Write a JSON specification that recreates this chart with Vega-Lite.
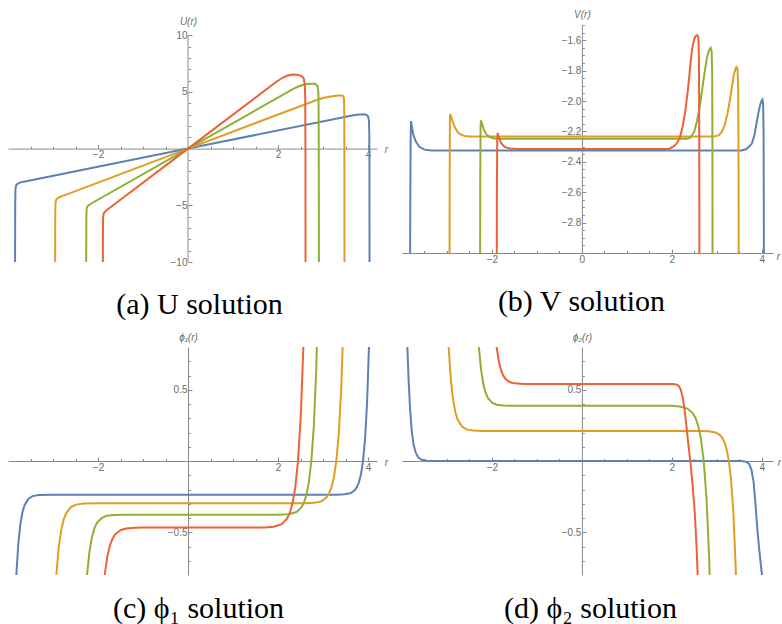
{
  "$schema": "https://vega.github.io/schema/vega-lite/v6.json",
  "background": "white",
  "padding": {"left": 8, "top": 9, "right": 0, "bottom": 0},
  "bounds": "flush",
  "align": "each",
  "columns": 2,
  "spacing": {"row": 85, "column": 25},
  "datasets": {
    "U": [
      {"s":1,"r":-3.845,"v":-14},{"s":1,"r":-3.84,"v":-5},{"s":1,"r":-3.835,"v":-3.6},{"s":1,"r":-3.82,"v":-3.25},{"s":1,"r":-3.79,"v":-3.1},{"s":1,"r":-3.74,"v":-3.0},{"s":1,"r":-3.65,"v":-2.92},{"s":1,"r":0,"v":0},{"s":1,"r":3.65,"v":2.92},{"s":1,"r":3.75,"v":2.984},{"s":1,"r":3.85,"v":3.016},{"s":1,"r":3.9,"v":3.02},{"s":1,"r":3.96,"v":2.98},{"s":1,"r":4.0,"v":2.85},{"s":1,"r":4.02,"v":2.5},{"s":1,"r":4.028,"v":1.5},{"s":1,"r":4.032,"v":-1},{"s":1,"r":4.035,"v":-14},
      {"s":2,"r":-2.955,"v":-14},{"s":2,"r":-2.95,"v":-6},{"s":2,"r":-2.945,"v":-4.8},{"s":2,"r":-2.93,"v":-4.5},{"s":2,"r":-2.9,"v":-4.38},{"s":2,"r":-2.85,"v":-4.27},{"s":2,"r":-2.75,"v":-4.125},{"s":2,"r":0,"v":0},{"s":2,"r":2.83,"v":4.245},{"s":2,"r":3.0,"v":4.463},{"s":2,"r":3.2,"v":4.625},{"s":2,"r":3.35,"v":4.679},{"s":2,"r":3.42,"v":4.69},{"s":2,"r":3.45,"v":4.62},{"s":2,"r":3.465,"v":4.4},{"s":2,"r":3.472,"v":3.5},{"s":2,"r":3.475,"v":0},{"s":2,"r":3.478,"v":-14},
      {"s":3,"r":-2.265,"v":-14},{"s":3,"r":-2.26,"v":-6.5},{"s":3,"r":-2.255,"v":-5.4},{"s":3,"r":-2.24,"v":-5.12},{"s":3,"r":-2.21,"v":-5.0},{"s":3,"r":-2.15,"v":-4.84},{"s":3,"r":0,"v":0},{"s":3,"r":2.33,"v":5.24},{"s":3,"r":2.45,"v":5.474},{"s":3,"r":2.55,"v":5.607},{"s":3,"r":2.65,"v":5.687},{"s":3,"r":2.75,"v":5.72},{"s":3,"r":2.8,"v":5.71},{"s":3,"r":2.85,"v":5.65},{"s":3,"r":2.88,"v":5.5},{"s":3,"r":2.895,"v":5.1},{"s":3,"r":2.902,"v":4},{"s":3,"r":2.906,"v":0},{"s":3,"r":2.91,"v":-14},
      {"s":4,"r":-1.895,"v":-14},{"s":4,"r":-1.89,"v":-7},{"s":4,"r":-1.885,"v":-6.0},{"s":4,"r":-1.87,"v":-5.7},{"s":4,"r":-1.84,"v":-5.55},{"s":4,"r":-1.78,"v":-5.34},{"s":4,"r":0,"v":0},{"s":4,"r":1.98,"v":5.94},{"s":4,"r":2.1,"v":6.246},{"s":4,"r":2.2,"v":6.418},{"s":4,"r":2.3,"v":6.516},{"s":4,"r":2.38,"v":6.54},{"s":4,"r":2.45,"v":6.5},{"s":4,"r":2.52,"v":6.4},{"s":4,"r":2.57,"v":6.2},{"s":4,"r":2.595,"v":5.7},{"s":4,"r":2.605,"v":4.5},{"s":4,"r":2.61,"v":0},{"s":4,"r":2.613,"v":-14}
    ],
    "V": [
      {"s":1,"r":-3.825,"v":-3.5},{"s":1,"r":-3.815,"v":-2.6},{"s":1,"r":-3.808,"v":-2.25},{"s":1,"r":-3.8,"v":-2.132},{"s":1,"r":-3.785,"v":-2.16},{"s":1,"r":-3.75,"v":-2.22},{"s":1,"r":-3.7,"v":-2.262},{"s":1,"r":-3.62,"v":-2.3},{"s":1,"r":-3.5,"v":-2.32},{"s":1,"r":-3.35,"v":-2.325},{"s":1,"r":3.55,"v":-2.325},{"s":1,"r":3.65,"v":-2.318},{"s":1,"r":3.72,"v":-2.3},{"s":1,"r":3.78,"v":-2.28},{"s":1,"r":3.84,"v":-2.22},{"s":1,"r":3.89,"v":-2.135},{"s":1,"r":3.93,"v":-2.07},{"s":1,"r":3.97,"v":-2.02},{"s":1,"r":4.0,"v":-1.995},{"s":1,"r":4.015,"v":-1.99},{"s":1,"r":4.03,"v":-2.02},{"s":1,"r":4.04,"v":-2.2},{"s":1,"r":4.045,"v":-2.6},{"s":1,"r":4.05,"v":-3.5},
      {"s":2,"r":-2.945,"v":-3.5},{"s":2,"r":-2.94,"v":-2.5},{"s":2,"r":-2.935,"v":-2.15},{"s":2,"r":-2.928,"v":-2.085},{"s":2,"r":-2.91,"v":-2.1},{"s":2,"r":-2.87,"v":-2.14},{"s":2,"r":-2.82,"v":-2.175},{"s":2,"r":-2.76,"v":-2.205},{"s":2,"r":-2.7,"v":-2.22},{"s":2,"r":-2.6,"v":-2.23},{"s":2,"r":-2.5,"v":-2.233},{"s":2,"r":2.95,"v":-2.233},{"s":2,"r":3.05,"v":-2.225},{"s":2,"r":3.12,"v":-2.2},{"s":2,"r":3.18,"v":-2.155},{"s":2,"r":3.24,"v":-2.08},{"s":2,"r":3.3,"v":-1.98},{"s":2,"r":3.34,"v":-1.9},{"s":2,"r":3.38,"v":-1.825},{"s":2,"r":3.42,"v":-1.785},{"s":2,"r":3.44,"v":-1.777},{"s":2,"r":3.46,"v":-1.79},{"s":2,"r":3.475,"v":-1.9},{"s":2,"r":3.483,"v":-2.3},{"s":2,"r":3.49,"v":-3.5},
      {"s":3,"r":-2.265,"v":-3.5},{"s":3,"r":-2.26,"v":-2.5},{"s":3,"r":-2.252,"v":-2.16},{"s":3,"r":-2.243,"v":-2.128},{"s":3,"r":-2.22,"v":-2.15},{"s":3,"r":-2.18,"v":-2.19},{"s":3,"r":-2.12,"v":-2.22},{"s":3,"r":-2.05,"v":-2.237},{"s":3,"r":-1.95,"v":-2.246},{"s":3,"r":-1.8,"v":-2.248},{"s":3,"r":2.35,"v":-2.248},{"s":3,"r":2.42,"v":-2.24},{"s":3,"r":2.5,"v":-2.2},{"s":3,"r":2.56,"v":-2.132},{"s":3,"r":2.62,"v":-2.04},{"s":3,"r":2.67,"v":-1.935},{"s":3,"r":2.72,"v":-1.83},{"s":3,"r":2.78,"v":-1.716},{"s":3,"r":2.83,"v":-1.665},{"s":3,"r":2.865,"v":-1.65},{"s":3,"r":2.885,"v":-1.67},{"s":3,"r":2.897,"v":-1.8},{"s":3,"r":2.903,"v":-2.3},{"s":3,"r":2.907,"v":-3.5},
      {"s":4,"r":-1.895,"v":-3.5},{"s":4,"r":-1.89,"v":-2.6},{"s":4,"r":-1.882,"v":-2.25},{"s":4,"r":-1.872,"v":-2.21},{"s":4,"r":-1.85,"v":-2.235},{"s":4,"r":-1.8,"v":-2.275},{"s":4,"r":-1.72,"v":-2.302},{"s":4,"r":-1.6,"v":-2.313},{"s":4,"r":-1.45,"v":-2.315},{"s":4,"r":1.9,"v":-2.315},{"s":4,"r":1.96,"v":-2.312},{"s":4,"r":2.06,"v":-2.295},{"s":4,"r":2.13,"v":-2.27},{"s":4,"r":2.18,"v":-2.24},{"s":4,"r":2.24,"v":-2.17},{"s":4,"r":2.3,"v":-2.066},{"s":4,"r":2.36,"v":-1.92},{"s":4,"r":2.41,"v":-1.77},{"s":4,"r":2.45,"v":-1.66},{"s":4,"r":2.49,"v":-1.6},{"s":4,"r":2.53,"v":-1.572},{"s":4,"r":2.57,"v":-1.567},{"s":4,"r":2.59,"v":-1.58},{"s":4,"r":2.603,"v":-1.7},{"s":4,"r":2.61,"v":-2.2},{"s":4,"r":2.614,"v":-3.5}
    ],
    "P1": [
      {"s":1,"r":-3.86,"v":-1.166},{"s":1,"r":-3.815,"v":-0.8},{"s":1,"r":-3.77,"v":-0.578},{"s":1,"r":-3.725,"v":-0.4435},{"s":1,"r":-3.68,"v":-0.3618},{"s":1,"r":-3.635,"v":-0.3123},{"s":1,"r":-3.545,"v":-0.2641},{"s":1,"r":-3.455,"v":-0.2463},{"s":1,"r":-3.32,"v":-0.2383},{"s":1,"r":-3.0,"v":-0.236},{"s":1,"r":3.3,"v":-0.236},{"s":1,"r":3.484,"v":-0.2334},{"s":1,"r":3.619,"v":-0.2242},{"s":1,"r":3.709,"v":-0.2041},{"s":1,"r":3.754,"v":-0.1833},{"s":1,"r":3.799,"v":-0.1492},{"s":1,"r":3.844,"v":-0.0929},{"s":1,"r":3.889,"v":0},{"s":1,"r":3.934,"v":0.153},{"s":1,"r":3.979,"v":0.4055},{"s":1,"r":4.024,"v":0.8217},{"s":1,"r":4.069,"v":1.508},
      {"s":2,"r":-2.981,"v":-1.126},{"s":2,"r":-2.926,"v":-0.8},{"s":2,"r":-2.871,"v":-0.602},{"s":2,"r":-2.816,"v":-0.482},{"s":2,"r":-2.761,"v":-0.4092},{"s":2,"r":-2.706,"v":-0.3651},{"s":2,"r":-2.596,"v":-0.322},{"s":2,"r":-2.486,"v":-0.3062},{"s":2,"r":-2.321,"v":-0.2991},{"s":2,"r":-2.0,"v":-0.297},{"s":2,"r":2.6,"v":-0.297},{"s":2,"r":2.801,"v":-0.2937},{"s":2,"r":2.966,"v":-0.2822},{"s":2,"r":3.076,"v":-0.2568},{"s":2,"r":3.131,"v":-0.2307},{"s":2,"r":3.186,"v":-0.1877},{"s":2,"r":3.241,"v":-0.1169},{"s":2,"r":3.296,"v":0},{"s":2,"r":3.351,"v":0.1927},{"s":2,"r":3.406,"v":0.5103},{"s":2,"r":3.461,"v":1.034},
      {"s":3,"r":-2.299,"v":-1.074},{"s":3,"r":-2.244,"v":-0.8},{"s":3,"r":-2.189,"v":-0.6336},{"s":3,"r":-2.134,"v":-0.5326},{"s":3,"r":-2.079,"v":-0.4714},{"s":3,"r":-2.024,"v":-0.4342},{"s":3,"r":-1.914,"v":-0.3981},{"s":3,"r":-1.804,"v":-0.3847},{"s":3,"r":-1.639,"v":-0.3787},{"s":3,"r":-1.4,"v":-0.377},{"s":3,"r":2.0,"v":-0.377},{"s":3,"r":2.246,"v":-0.3728},{"s":3,"r":2.411,"v":-0.3582},{"s":3,"r":2.521,"v":-0.326},{"s":3,"r":2.576,"v":-0.2929},{"s":3,"r":2.631,"v":-0.2383},{"s":3,"r":2.686,"v":-0.1483},{"s":3,"r":2.741,"v":0},{"s":3,"r":2.796,"v":0.2446},{"s":3,"r":2.851,"v":0.6478},{"s":3,"r":2.906,"v":1.3126},
      {"s":4,"r":-1.912,"v":-1.016},{"s":4,"r":-1.852,"v":-0.8},{"s":4,"r":-1.792,"v":-0.669},{"s":4,"r":-1.732,"v":-0.5895},{"s":4,"r":-1.672,"v":-0.5413},{"s":4,"r":-1.612,"v":-0.5121},{"s":4,"r":-1.492,"v":-0.4836},{"s":4,"r":-1.372,"v":-0.4731},{"s":4,"r":-1.192,"v":-0.4684},{"s":4,"r":-1.0,"v":-0.467},{"s":4,"r":1.7,"v":-0.467},{"s":4,"r":1.904,"v":-0.4618},{"s":4,"r":2.084,"v":-0.4438},{"s":4,"r":2.204,"v":-0.4038},{"s":4,"r":2.264,"v":-0.3628},{"s":4,"r":2.324,"v":-0.2952},{"s":4,"r":2.384,"v":-0.1838},{"s":4,"r":2.444,"v":0},{"s":4,"r":2.504,"v":0.303},{"s":4,"r":2.564,"v":0.8024},{"s":4,"r":2.624,"v":1.626}
    ],
    "P2": [
      {"s":1,"r":-3.9,"v":1.0},{"s":1,"r":-3.88,"v":0.8},{"s":1,"r":-3.855,"v":0.58},{"s":1,"r":-3.82,"v":0.36},{"s":1,"r":-3.78,"v":0.2},{"s":1,"r":-3.74,"v":0.11},{"s":1,"r":-3.69,"v":0.055},{"s":1,"r":-3.63,"v":0.022},{"s":1,"r":-3.56,"v":0.008},{"s":1,"r":-3.45,"v":0.002},{"s":1,"r":-3.3,"v":0},{"s":1,"r":3.55,"v":0},{"s":1,"r":3.65,"v":-0.005},{"s":1,"r":3.72,"v":-0.02},{"s":1,"r":3.77,"v":-0.06},{"s":1,"r":3.82,"v":-0.15},{"s":1,"r":3.86,"v":-0.3},{"s":1,"r":3.9,"v":-0.47},{"s":1,"r":3.94,"v":-0.61},{"s":1,"r":3.98,"v":-0.73},{"s":1,"r":4.01,"v":-0.81},{"s":1,"r":4.03,"v":-0.9},
      {"s":2,"r":-3.013,"v":1.182},{"s":2,"r":-2.963,"v":0.8},{"s":2,"r":-2.913,"v":0.568},{"s":2,"r":-2.863,"v":0.4277},{"s":2,"r":-2.813,"v":0.3424},{"s":2,"r":-2.763,"v":0.2907},{"s":2,"r":-2.663,"v":0.2403},{"s":2,"r":-2.563,"v":0.2218},{"s":2,"r":-2.413,"v":0.2134},{"s":2,"r":-2.2,"v":0.211},{"s":2,"r":2.6,"v":0.211},{"s":2,"r":2.819,"v":0.2087},{"s":2,"r":2.969,"v":0.2005},{"s":2,"r":3.069,"v":0.1824},{"s":2,"r":3.119,"v":0.1639},{"s":2,"r":3.169,"v":0.1334},{"s":2,"r":3.219,"v":0.083},{"s":2,"r":3.269,"v":0},{"s":2,"r":3.319,"v":-0.1369},{"s":2,"r":3.369,"v":-0.3625},{"s":2,"r":3.419,"v":-0.7346},{"s":2,"r":3.469,"v":-1.348},
      {"s":3,"r":-2.341,"v":1.068},{"s":3,"r":-2.291,"v":0.8},{"s":3,"r":-2.241,"v":0.6375},{"s":3,"r":-2.191,"v":0.5389},{"s":3,"r":-2.141,"v":0.4792},{"s":3,"r":-2.091,"v":0.4429},{"s":3,"r":-1.991,"v":0.4076},{"s":3,"r":-1.891,"v":0.3946},{"s":3,"r":-1.741,"v":0.3887},{"s":3,"r":-1.5,"v":0.387},{"s":3,"r":2.0,"v":0.387},{"s":3,"r":2.169,"v":0.3827},{"s":3,"r":2.349,"v":0.3677},{"s":3,"r":2.469,"v":0.3346},{"s":3,"r":2.529,"v":0.3007},{"s":3,"r":2.589,"v":0.2446},{"s":3,"r":2.649,"v":0.1523},{"s":3,"r":2.709,"v":0},{"s":3,"r":2.769,"v":-0.251},{"s":3,"r":2.829,"v":-0.665},{"s":3,"r":2.889,"v":-1.347},
      {"s":4,"r":-1.946,"v":0.9687},{"s":4,"r":-1.896,"v":0.8},{"s":4,"r":-1.846,"v":0.6977},{"s":4,"r":-1.796,"v":0.6356},{"s":4,"r":-1.746,"v":0.598},{"s":4,"r":-1.696,"v":0.5752},{"s":4,"r":-1.596,"v":0.5529},{"s":4,"r":-1.496,"v":0.5448},{"s":4,"r":-1.3,"v":0.54},{"s":4,"r":2.0,"v":0.54},{"s":4,"r":2.1,"v":0.537},{"s":4,"r":2.16,"v":0.525},{"s":4,"r":2.2,"v":0.5},{"s":4,"r":2.24,"v":0.45},{"s":4,"r":2.28,"v":0.37},{"s":4,"r":2.32,"v":0.26},{"s":4,"r":2.36,"v":0.14},{"s":4,"r":2.41,"v":0.0},{"s":4,"r":2.46,"v":-0.16},{"s":4,"r":2.51,"v":-0.36},{"s":4,"r":2.55,"v":-0.6},{"s":4,"r":2.575,"v":-0.8},{"s":4,"r":2.6,"v":-1.05}
    ]
  },
  "concat": [
    {
      "width": 369, "height": 237,
      "title": {"text": "(a) U solution", "dx": 7},
      "resolve": {"axis": {"x": "independent", "y": "independent"}},
      "layer": [
        {
          "data": {"values": [{}]},
          "mark": {"type": "rule", "color": "#8a8a8a", "strokeWidth": 1},
          "encoding": {
            "x": {"datum": 0, "type": "quantitative", "scale": {"domain": [-4, 4.2], "nice": false, "zero": false},
              "axis": {"orient": "bottom", "offset": -113.4, "values": [-3.5,-3,-2.5,-1.5,-1,-0.5,0.5,1,1.5,2.5,3,3.5],
                "labels": false, "domain": false, "tickSize": -2.5, "title": null}},
            "y": {"datum": -10, "type": "quantitative", "scale": {"domain": [-10, 10.9], "nice": false, "zero": false},
              "axis": {"orient": "left", "offset": -180, "values": [-9,-8,-7,-6,-4,-3,-2,-1,1,2,3,4,6,7,8,9],
                "labels": false, "domain": false, "tickSize": -2.5, "title": null}},
            "y2": {"datum": 10}
          }
        },
        {
          "data": {"name": "U"},
          "mark": {"type": "line", "clip": true, "strokeWidth": 2},
          "encoding": {
            "x": {"field": "r", "type": "quantitative",
              "scale": {"domain": [-4, 4.2], "nice": false, "zero": false},
              "axis": {"orient": "bottom", "offset": -113.4, "values": [-2, 2, 4], "format": "d", "labelOverlap": false,
                "tickSize": -4, "labelPadding": 5, "title": "r", "titleX": 378, "titleY": 1, "titleAlign": "center", "titleBaseline": "middle"}},
            "y": {"field": "v", "type": "quantitative",
              "scale": {"domain": [-10, 10.9], "nice": false, "zero": false},
              "axis": {"orient": "left", "offset": -180, "domain": false, "values": [-10, -5, 5, 10], "format": "d", "labelOverlap": false,
                "tickSize": -4, "labelPadding": 5, "title": "U(r)", "titleX": 0, "titleY": -1, "titleAlign": "center", "titleBaseline": "alphabetic"}},
            "color": {"field": "s", "type": "nominal", "scale": {"domain": [1,2,3,4], "range": ["#5E81B5","#E19C24","#8FB032","#EB6235"]}, "legend": null}
          }
        }
      ]
    },
    {
      "width": 371, "height": 228,
      "title": {"text": "(b) V solution", "dx": -6},
      "resolve": {"axis": {"x": "independent", "y": "independent"}},
      "layer": [
        {
          "data": {"name": "V"},
          "mark": {"type": "line", "opacity": 0, "clip": true},
          "encoding": {
            "x": {"field": "r", "type": "quantitative", "scale": {"domain": [-4, 4.25], "nice": false, "zero": false},
              "axis": {"orient": "bottom", "offset": 0, "values": [-3.5,-3,-2.5,-1.5,-1,-0.5,0.5,1,1.5,2.5,3,3.5],
                "labels": false, "domain": false, "tickSize": -2.5, "title": null}},
            "y": {"field": "v", "type": "quantitative", "scale": {"domain": [-3, -1.5], "nice": false, "zero": false},
              "axis": {"orient": "left", "offset": -179.9, "values": [-2.95,-2.9,-2.85,-2.75,-2.7,-2.65,-2.55,-2.5,-2.45,-2.35,-2.3,-2.25,-2.15,-2.1,-2.05,-1.95,-1.9,-1.85,-1.75,-1.7,-1.65,-1.55,-1.5],
                "labels": false, "domain": false, "tickSize": -2.5, "title": null}},
            "detail": {"field": "s", "type": "nominal"}
          }
        },
        {
          "data": {"name": "V"},
          "mark": {"type": "line", "clip": true, "strokeWidth": 2},
          "encoding": {
            "x": {"field": "r", "type": "quantitative",
              "scale": {"domain": [-4, 4.25], "nice": false, "zero": false},
              "axis": {"orient": "bottom", "offset": 0, "values": [-2, 0, 2, 4], "format": "d", "labelOverlap": false,
                "tickSize": -4, "labelPadding": 5, "title": "r", "titleX": 376, "titleY": 3, "titleAlign": "center", "titleBaseline": "middle"}},
            "y": {"field": "v", "type": "quantitative",
              "scale": {"domain": [-3, -1.5], "nice": false, "zero": false},
              "axis": {"orient": "left", "offset": -179.9, "values": [-2.8,-2.6,-2.4,-2.2,-2.0,-1.8,-1.6], "format": ".1f", "labelOverlap": false,
                "tickSize": -4, "labelPadding": 5, "title": "V(r)", "titleX": 0, "titleY": -8, "titleAlign": "center", "titleBaseline": "alphabetic"}},
            "color": {"field": "s", "type": "nominal", "scale": {"domain": [1,2,3,4], "range": ["#5E81B5","#E19C24","#8FB032","#EB6235"]}, "legend": null}
          }
        }
      ]
    },
    {
      "width": 369, "height": 228,
      "title": {"text": "(c) ϕ₁ solution", "dx": 6, "dy": -4},
      "resolve": {"axis": {"x": "independent", "y": "independent"}},
      "layer": [
        {
          "data": {"name": "P1"},
          "mark": {"type": "line", "opacity": 0, "clip": true},
          "encoding": {
            "x": {"field": "r", "type": "quantitative", "scale": {"domain": [-4, 4.2], "nice": false, "zero": false},
              "axis": {"orient": "bottom", "offset": -114, "values": [-3.5,-3,-2.5,-1.5,-1,-0.5,0.5,1,1.5,2.5,3,3.5],
                "labels": false, "domain": false, "tickSize": -2.5, "title": null}},
            "y": {"field": "v", "type": "quantitative", "scale": {"domain": [-0.8, 0.8], "nice": false, "zero": false},
              "axis": {"orient": "left", "offset": -180, "values": [-0.7,-0.6,-0.4,-0.3,-0.2,-0.1,0.1,0.2,0.3,0.4,0.6,0.7],
                "labels": false, "domain": false, "tickSize": -2.5, "title": null}},
            "detail": {"field": "s", "type": "nominal"}
          }
        },
        {
          "data": {"name": "P1"},
          "mark": {"type": "line", "clip": true, "strokeWidth": 2},
          "encoding": {
            "x": {"field": "r", "type": "quantitative",
              "scale": {"domain": [-4, 4.2], "nice": false, "zero": false},
              "axis": {"orient": "bottom", "offset": -114, "values": [-2, 2, 4], "format": "d", "labelOverlap": false,
                "tickSize": -4, "labelPadding": 5, "title": "r", "titleX": 378, "titleY": 1, "titleAlign": "center", "titleBaseline": "middle"}},
            "y": {"field": "v", "type": "quantitative",
              "scale": {"domain": [-0.8, 0.8], "nice": false, "zero": false},
              "axis": {"orient": "left", "offset": -180, "values": [-0.5, 0.5], "format": ".1f", "labelOverlap": false,
                "tickSize": -4, "labelPadding": 5, "title": "ϕ₁(r)", "titleX": 0, "titleY": -7, "titleAlign": "center", "titleBaseline": "alphabetic"}},
            "color": {"field": "s", "type": "nominal", "scale": {"domain": [1,2,3,4], "range": ["#5E81B5","#E19C24","#8FB032","#EB6235"]}, "legend": null}
          }
        }
      ]
    },
    {
      "width": 371, "height": 228,
      "title": {"text": "(d) ϕ₂ solution", "dx": 3, "dy": -4},
      "resolve": {"axis": {"x": "independent", "y": "independent"}},
      "layer": [
        {
          "data": {"name": "P2"},
          "mark": {"type": "line", "opacity": 0, "clip": true},
          "encoding": {
            "x": {"field": "r", "type": "quantitative", "scale": {"domain": [-4, 4.25], "nice": false, "zero": false},
              "axis": {"orient": "bottom", "offset": -114, "values": [-3.5,-3,-2.5,-1.5,-1,-0.5,0.5,1,1.5,2.5,3,3.5],
                "labels": false, "domain": false, "tickSize": -2.5, "title": null}},
            "y": {"field": "v", "type": "quantitative", "scale": {"domain": [-0.8, 0.8], "nice": false, "zero": false},
              "axis": {"orient": "left", "offset": -179.9, "values": [-0.7,-0.6,-0.4,-0.3,-0.2,-0.1,0.1,0.2,0.3,0.4,0.6,0.7],
                "labels": false, "domain": false, "tickSize": -2.5, "title": null}},
            "detail": {"field": "s", "type": "nominal"}
          }
        },
        {
          "data": {"name": "P2"},
          "mark": {"type": "line", "clip": true, "strokeWidth": 2},
          "encoding": {
            "x": {"field": "r", "type": "quantitative",
              "scale": {"domain": [-4, 4.25], "nice": false, "zero": false},
              "axis": {"orient": "bottom", "offset": -114, "values": [-2, 2, 4], "format": "d", "labelOverlap": false,
                "tickSize": -4, "labelPadding": 5, "title": "r", "titleX": 377, "titleY": 1, "titleAlign": "center", "titleBaseline": "middle"}},
            "y": {"field": "v", "type": "quantitative",
              "scale": {"domain": [-0.8, 0.8], "nice": false, "zero": false},
              "axis": {"orient": "left", "offset": -179.9, "values": [-0.5, 0.5], "format": ".1f", "labelOverlap": false,
                "tickSize": -4, "labelPadding": 5, "title": "ϕ₂(r)", "titleX": 0, "titleY": -7, "titleAlign": "center", "titleBaseline": "alphabetic"}},
            "color": {"field": "s", "type": "nominal", "scale": {"domain": [1,2,3,4], "range": ["#5E81B5","#E19C24","#8FB032","#EB6235"]}, "legend": null}
          }
        }
      ]
    }
  ],
  "config": {
    "view": {"stroke": null},
    "axis": {
      "grid": false, "domainColor": "#8a8a8a", "tickColor": "#8a8a8a", "domainWidth": 1, "tickWidth": 1,
      "labelColor": "#6b6b6b", "labelFont": "Liberation Sans", "labelFontSize": 10,
      "titleColor": "#6b6b6b", "titleFont": "Liberation Sans", "titleFontSize": 10, "titleFontStyle": "italic", "titleFontWeight": "normal",
      "labelOverlap": false, "labelFlush": false, "titleAngle": 0, "titlePadding": 0
    },
    "title": {"font": "Liberation Serif", "fontSize": 30, "fontWeight": "normal", "color": "#000000", "orient": "bottom", "anchor": "middle", "frame": "group", "baseline": "alphabetic", "offset": 23}
  }
}
